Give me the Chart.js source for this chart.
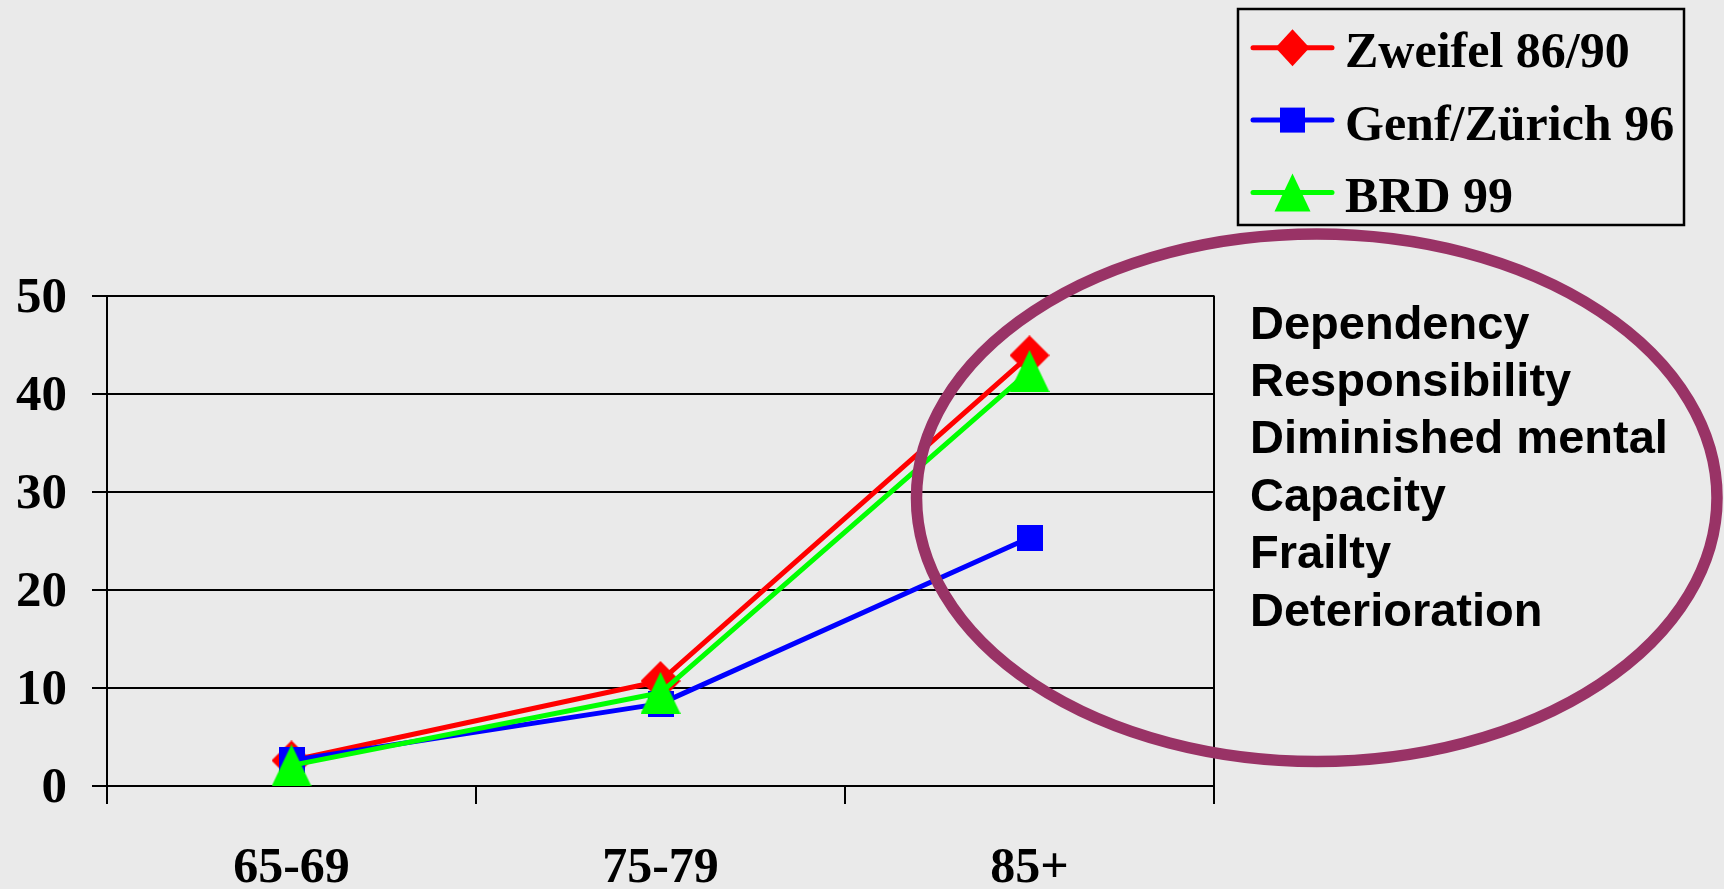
<!DOCTYPE html>
<html>
<head>
<meta charset="utf-8">
<script src="https://cdn.jsdelivr.net/npm/chart.js@4.4.1/dist/chart.umd.min.js"></script>
<style>
  html, body { margin: 0; padding: 0; background: #eaeaea; }
  canvas { display: block; }
</style>
</head>
<body>
<canvas id="chart" width="1724" height="889"></canvas>
<script>
// Age groups and the share per study (percent)
const ageGroups = ['65-69', '75-79', '85+'];
const seriesNames = ['Zweifel 86/90', 'Genf/Zürich 96', 'BRD 99'];
const zweifel = [2.6, 10.7, 43.9];
const genfZuerich = [2.6, 8.4, 25.3];
const brd = [2.1, 9.5, 42.3];
const yTicks = [0, 10, 20, 30, 40, 50];
const noteLines = ['Dependency', 'Responsibility', 'Diminished mental', 'Capacity', 'Frailty', 'Deterioration'];

const SERIF = "'Liberation Serif', 'Times New Roman', serif";
const SANS = "'Liberation Sans', Arial, sans-serif";

// Marker look per series: chart marker size (w,h) and legend marker size (lw,lh)
const seriesStyle = [
  { color: '#ff0000', shape: 'diamond',  w: 40, h: 40, lw: 34, lh: 37 },
  { color: '#0000ff', shape: 'square',   w: 26, h: 26, lw: 25, lh: 25 },
  { color: '#00ff00', shape: 'triangle', w: 40, h: 42, lw: 36, lh: 38 }
];

function shapePath(ctx, shape, cx, cy, w, h) {
  ctx.beginPath();
  if (shape === 'diamond') {
    ctx.moveTo(cx, cy - h / 2);
    ctx.lineTo(cx + w / 2, cy);
    ctx.lineTo(cx, cy + h / 2);
    ctx.lineTo(cx - w / 2, cy);
  } else if (shape === 'square') {
    ctx.rect(cx - w / 2, cy - h / 2, w, h);
  } else {
    ctx.moveTo(cx, cy - h / 2);
    ctx.lineTo(cx + w / 2, cy + h / 2);
    ctx.lineTo(cx - w / 2, cy + h / 2);
  }
  ctx.closePath();
}

function markerCanvas(st) {
  const c = document.createElement('canvas');
  c.width = st.w; c.height = st.h;
  const g = c.getContext('2d');
  g.fillStyle = st.color;
  shapePath(g, st.shape, st.w / 2, st.h / 2, st.w, st.h);
  g.fill();
  return c;
}

const seriesValues = [zweifel, genfZuerich, brd];
const datasets = seriesValues.map((vals, i) => ({
  label: seriesNames[i],
  data: vals,
  borderColor: seriesStyle[i].color,
  backgroundColor: seriesStyle[i].color,
  borderWidth: 5,
  borderJoinStyle: 'round',
  borderCapStyle: 'round',
  tension: 0,
  fill: false,
  pointStyle: markerCanvas(seriesStyle[i]),
  pointRadius: 20,
  pointHoverRadius: 20,
  order: seriesValues.length - i
}));

const backdrop = {
  id: 'backdrop',
  beforeDraw(chart) {
    const ctx = chart.ctx;
    ctx.save();
    ctx.fillStyle = '#eaeaea';
    ctx.fillRect(0, 0, chart.width, chart.height);
    ctx.restore();
  }
};

const overlay = {
  id: 'overlay',
  afterDraw(chart) {
    const ctx = chart.ctx;
    ctx.save();

    // Boxed legend: line sample with marker, then the series name
    ctx.lineWidth = 2.5;
    ctx.strokeStyle = '#000';
    ctx.strokeRect(1238, 9, 446, 216);
    chart.data.datasets.forEach((ds, i) => {
      const st = seriesStyle[i];
      const y = 47.7 + i * 72.4;
      ctx.strokeStyle = ds.borderColor;
      ctx.lineWidth = 5;
      ctx.lineCap = 'round';
      ctx.beginPath();
      ctx.moveTo(1253, y);
      ctx.lineTo(1332, y);
      ctx.stroke();
      ctx.fillStyle = ds.borderColor;
      shapePath(ctx, st.shape, 1292.5, y, st.lw, st.lh);
      ctx.fill();
      ctx.fillStyle = '#000';
      ctx.font = 'bold 50px ' + SERIF;
      ctx.textAlign = 'left';
      ctx.textBaseline = 'alphabetic';
      ctx.fillText(ds.label, 1345, y + 19.5);
    });

    // Ellipse around the oldest group and the notes
    ctx.strokeStyle = '#993366';
    ctx.lineWidth = 11.5;
    ctx.beginPath();
    ctx.ellipse(1316.75, 497.75, 400.25, 263.75, 0, 0, Math.PI * 2);
    ctx.stroke();

    ctx.fillStyle = '#000';
    ctx.font = 'bold 47px ' + SANS;
    ctx.textAlign = 'left';
    ctx.textBaseline = 'alphabetic';
    noteLines.forEach((t, i) => ctx.fillText(t, 1250, 338.5 + i * 57.4));

    ctx.restore();
  }
};

new Chart(document.getElementById('chart'), {
  type: 'line',
  data: { labels: ageGroups, datasets },
  options: {
    responsive: false,
    devicePixelRatio: 1,
    animation: false,
    layout: { padding: { top: 295.5, right: 510, bottom: 0, left: 0 } },
    plugins: { legend: { display: false }, tooltip: { enabled: false } },
    scales: {
      x: {
        offset: true,
        afterFit: s => { s.height = 103; },
        grid: {
          offset: true,
          drawOnChartArea: true,
          color: c => (c.type === 'scale' ? '#000' : 'rgba(0,0,0,0)'),
          lineWidth: 2,
          tickLength: 18,
          tickColor: '#000',
          tickWidth: 2
        },
        border: { color: '#000', width: 2 },
        ticks: {
          color: '#000',
          font: { family: SERIF, weight: 'bold', size: 50 },
          padding: 35,
          maxRotation: 0,
          autoSkip: false
        }
      },
      y: {
        min: 0,
        max: 50,
        afterFit: s => { s.width = 107; },
        afterBuildTicks: s => { s.ticks = yTicks.map(v => ({ value: v })); },
        grid: { color: '#000', lineWidth: 2, tickLength: 15, tickColor: '#000', tickWidth: 2 },
        border: { color: '#000', width: 2 },
        ticks: {
          color: '#000',
          font: { family: SERIF, weight: 'bold', size: 51 },
          padding: 25,
          labelOffset: 3
        }
      }
    }
  },
  plugins: [backdrop, overlay]
});
</script>
</body>
</html>
